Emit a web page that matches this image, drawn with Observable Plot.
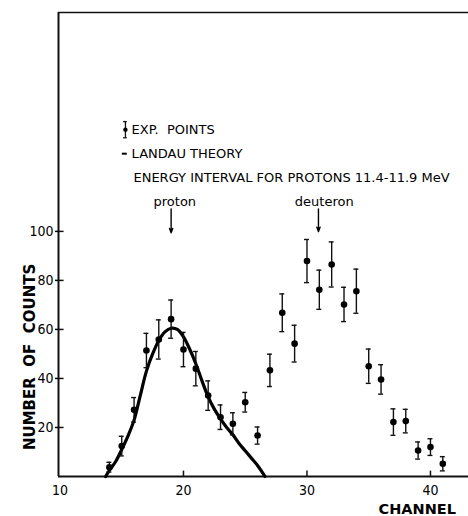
<!DOCTYPE html>
<html><head><meta charset="utf-8">
<script src="https://cdn.jsdelivr.net/npm/d3@7"></script>
<script src="https://cdn.jsdelivr.net/npm/@observablehq/plot@0.6"></script>
<style>body{margin:0;background:#fff} svg{display:block}</style>
</head><body><div id="chart"></div>
<script>
// Experimental points
const channels = [14,15,16,17,18,19,20,21,22,23,24,25,26,27,28,29,30,31,32,33,34,35,36,37,38,39,40,41];
const counts   = [3.8,12.4,27.2,51.4,55.9,64.2,51.8,44,33,24.2,21.5,30.3,16.7,43.3,66.8,54.2,87.9,76.2,86.5,70.2,75.6,45,39.6,22.2,22.6,10.6,12,5.2];
const errors   = [2,4,5,7,8,7.8,7,7,6,5,4.5,4,3.5,6.6,7.7,7.5,8.8,8,9.2,7,9,7,6,5.4,4.8,3.5,3.4,2.9];
// Landau theory curve
const curveChannels = [13.7,14,14.5,15,15.5,16,16.5,17,17.5,18,18.5,19,19.5,20,20.5,21,21.5,22,22.5,23,23.5,24,24.5,25,25.5,26,26.6];
const curveCounts   = [0,2.5,6,11,16.5,23,33,43,50,55.5,59,60.5,60,57,52,46,39,32.5,27.5,23.5,20,17,13.5,10.5,7.5,4.5,0];
// Ticks
const xTicks = [10,20,30,40];
const yTicks = [20,40,60,80,100];
// Annotations
const legendLabels = ["EXP.  POINTS","LANDAU THEORY","ENERGY INTERVAL FOR PROTONS 11.4-11.9 MeV"];
const legendX = [15.8,15.8,15.95];
const legendY = [141.3,131.7,121.9];
const peakLabels = ["proton","deuteron"];
const peakLabelX = [19.3,31.4];
const peakLabelY = [112,112];
const arrowX = [19.0,30.93];
const arrowTop = [109.2,109.2];
const arrowBottom = [99.4,99.9];
const axisTitles = ["CHANNEL","NUMBER  OF  COUNTS"];
const axisTitleX = [38.93,7.55];
const axisTitleY = [-13.4,48.8];
const axisTitleRotate = [0,-90];
const xDomain = [9.88,43.08];
const yDomain = [0,189.3];

const points = channels.map((c,i)=>({ch:c, n:counts[i], e:errors[i]}));
const curve = curveChannels.map((c,i)=>({ch:c, n:curveCounts[i]}));
const legend = legendLabels.map((t,i)=>({t, x:legendX[i], y:legendY[i]}));
const peaks = peakLabels.map((t,i)=>({t, x:peakLabelX[i], y:peakLabelY[i], ax:arrowX[i], a1:arrowTop[i], a2:arrowBottom[i]}));
const titles = axisTitles.map((t,i)=>({t, x:axisTitleX[i], y:axisTitleY[i], r:axisTitleRotate[i]}));
const capW = 0.2;
const legendSym = [{x:15.3, y:141.5, e:3.3}];
const legendDash = [{x1:15.05, x2:15.45, y:131.7}];

const font = "'DejaVu Sans', sans-serif";
const tickFont = "'Liberation Sans Narrow', 'DejaVu Sans Condensed', sans-serif";

const chart = Plot.plot({
  width: 468, height: 516,
  marginLeft: 58, marginRight: 0, marginTop: 12, marginBottom: 40,
  x: {domain: xDomain},
  y: {domain: yDomain},
  style: {background: "#fff", color: "#000"},
  marks: [
    // frame lines
    Plot.ruleY([yDomain[1]], {stroke: "#111", strokeWidth: 1.5}),
    Plot.ruleY([0], {stroke: "#111", strokeWidth: 2}),
    Plot.ruleX([xDomain[0]], {stroke: "#111", strokeWidth: 2}),
    // inward ticks
    Plot.ruleX(xTicks.slice(1), {x: d=>d, y1: 0, y2: 2.2, stroke: "#111", strokeWidth: 1.5}),
    Plot.ruleY(yTicks, {y: d=>d, x1: xDomain[0], x2: xDomain[0]+0.45, stroke: "#111", strokeWidth: 1.5}),
    Plot.axisX(xTicks, {tickSize: 0, tickPadding: 9, fontSize: 14, fontFamily: tickFont, label: null}),
    Plot.axisY(yTicks, {tickSize: 3, tickPadding: 2, fontSize: 14, fontFamily: tickFont, label: null, strokeWidth: 1.5}),
    // Landau curve
    Plot.line(curve, {x: "ch", y: "n", stroke: "#000", strokeWidth: 3.2, curve: "catmull-rom"}),
    // error bars
    Plot.ruleX(points, {x: "ch", y1: d=>d.n-d.e, y2: d=>d.n+d.e, stroke: "#111", strokeWidth: 1.4}),
    Plot.ruleY(points, {y: d=>d.n+d.e, x1: d=>d.ch-capW, x2: d=>d.ch+capW, stroke: "#111", strokeWidth: 1.4}),
    Plot.ruleY(points, {y: d=>d.n-d.e, x1: d=>d.ch-capW, x2: d=>d.ch+capW, stroke: "#111", strokeWidth: 1.4}),
    Plot.dot(points, {x: "ch", y: "n", r: 3.3, fill: "#000", stroke: "none"}),
    // legend symbols
    Plot.ruleX(legendSym, {x: "x", y1: d=>d.y-d.e, y2: d=>d.y+d.e, stroke: "#111", strokeWidth: 1.3}),
    Plot.ruleY(legendSym, {y: d=>d.y+d.e, x1: d=>d.x-0.15, x2: d=>d.x+0.15, stroke: "#111", strokeWidth: 1.3}),
    Plot.ruleY(legendSym, {y: d=>d.y-d.e, x1: d=>d.x-0.15, x2: d=>d.x+0.15, stroke: "#111", strokeWidth: 1.3}),
    Plot.dot(legendSym, {x: "x", y: "y", r: 2.2, fill: "#000"}),
    Plot.ruleY(legendDash, {y: "y", x1: "x1", x2: "x2", stroke: "#000", strokeWidth: 2}),
    Plot.text(legend, {x: "x", y: "y", text: "t", textAnchor: "start", fontSize: 13, fontFamily: font, fill: "#000"}),
    // peak labels + arrows
    Plot.text(peaks, {x: "x", y: "y", text: "t", fontSize: 13, fontFamily: font, fill: "#000"}),
    Plot.arrow(peaks, {x1: "ax", x2: "ax", y1: "a1", y2: "a2", stroke: "#000", strokeWidth: 1.4, headLength: 5, headAngle: 40}),
    // axis titles
    Plot.text(titles.slice(0,1), {x: "x", y: "y", text: "t", fontSize: 14.5, fontWeight: "bold", fontFamily: font, fill: "#000"}),
    Plot.text(titles.slice(1), {x: "x", y: "y", text: "t", rotate: -90, fontSize: 15, fontWeight: "bold", fontFamily: font, fill: "#000"})
  ]
});
document.getElementById("chart").append(chart);
</script>
</body></html>
